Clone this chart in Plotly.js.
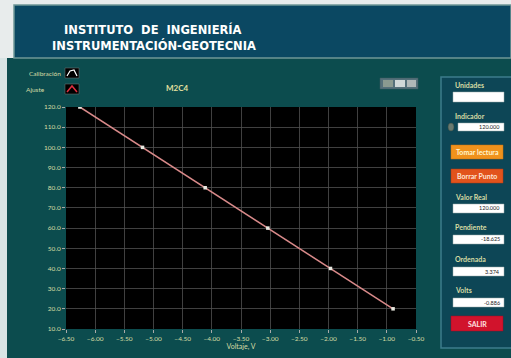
<!DOCTYPE html>
<html><head><meta charset="utf-8">
<script src="https://cdn.plot.ly/plotly-3.0.1.min.js"></script>
<style>html,body{margin:0;padding:0;background:#ffffff;}#c{width:511px;height:358px;}</style>
</head><body><div id="c"></div>
<script>
// Data
const calibVolts = [-6.262, -5.188, -4.114, -3.040, -1.966, -0.893];
const calibValues = [120, 100, 80, 60, 40, 20];
const fitVolts = [-6.262, -0.893];
const fitValues = [120, 20];
const xTicks = [-6.5, -6.0, -5.5, -5.0, -4.5, -4.0, -3.5, -3.0, -2.5, -2.0, -1.5, -1.0, -0.5];
const yTicks = [10, 20, 30, 40, 50, 60, 70, 80, 90, 100, 110, 120];
const panelLabels = ["Unidades", "Indicador", "Valor Real", "Pendiente", "Ordenada", "Volts"];
const panelValues = ["", "120.000", "120.000", "-18.625", "3.374", "-0.886"];

const W = 511, H = 358;
const px = x => x / W;
const py = y => 1 - y / H;
const lab = '#d6dca4';

function rect(x0, y0, x1, y1, fill, line, lw) {
  return {type: 'rect', xref: 'paper', yref: 'paper', x0: px(x0), x1: px(x1), y0: py(y1), y1: py(y0),
    fillcolor: fill, line: {color: line || fill, width: lw || 0}, layer: 'below'};
}
function txt(x, y, s, opts) {
  return Object.assign({xref: 'paper', yref: 'paper', x: px(x), y: py(y), text: s, showarrow: false,
    xanchor: 'left', yanchor: 'middle', font: {family: 'Lato, sans-serif', size: 7, color: lab}}, opts || {});
}

const shapes = [
  rect(0, 0, 511, 58, '#e8ecec'),
  rect(0, 58, 7, 358, '#d8e4e4'),
  rect(14, 5, 511, 58, '#0b4862', '#6f9696', 1.5),
  rect(441, 77, 520, 348, '#0d4656', '#3d7c8c', 1.5),
  // legend icons
  rect(65, 68, 79, 78, '#000000', '#777777', 0.5),
  rect(65, 84, 79, 94, '#000000', '#777777', 0.5),
  {type: 'path', xref: 'paper', yref: 'paper', layer: 'above',
    path: `M ${px(67)} ${py(76)} L ${px(70)} ${py(71)} L ${px(74)} ${py(70)} L ${px(77)} ${py(76)}`,
    line: {color: '#ffffff', width: 1.2}},
  {type: 'path', xref: 'paper', yref: 'paper', layer: 'above',
    path: `M ${px(67)} ${py(92)} L ${px(72)} ${py(86)} L ${px(77)} ${py(92)}`,
    line: {color: '#e03040', width: 1.5}},
  // toolbar palette
  rect(380, 78, 418, 89, '#55707a', '#3a5a60', 0.5),
  rect(383, 80, 393, 87, '#8a9a90'),
  rect(395, 80, 405, 87, '#d0d8d8'),
  rect(407, 80, 416, 87, '#b0b8b8'),
  // right panel boxes
  rect(453, 92, 504, 102, '#ffffff', '#9aa', 0.5),
  rect(458, 123, 504, 131, '#ffffff', '#9aa', 0.5),
  {type: 'circle', xref: 'paper', yref: 'paper', x0: px(448), x1: px(454), y0: py(131), y1: py(123), fillcolor: '#6a7a70', line: {color: '#3a4a40', width: 0.5}, layer: 'below'},
  rect(451, 145, 503, 159, '#f0921c', '#c87010', 0.5),
  rect(451, 169, 503, 183, '#e2531c', '#b03a10', 0.5),
  rect(453, 204, 504, 213, '#ffffff', '#9aa', 0.5),
  rect(453, 235, 504, 244, '#ffffff', '#9aa', 0.5),
  rect(453, 267, 504, 276, '#ffffff', '#9aa', 0.5),
  rect(453, 298, 504, 307, '#ffffff', '#9aa', 0.5),
  rect(451, 316, 503, 331, '#d1132c', '#a00a20', 0.5),
];

const hdrFont = {family: 'DejaVu Sans, sans-serif', size: 11.5, color: '#ffffff', weight: 'bold'};
const annotations = [
  txt(62, 30, '<b>INSTITUTO  DE  INGENIERÍA</b>', {font: hdrFont}),
  txt(50, 45, '<b>INSTRUMENTACIÓN-GEOTECNIA</b>', {font: hdrFont}),
  txt(63, 73, 'Calibración', {xanchor: 'right', font: {family: 'Lato, sans-serif', size: 6.5, color: lab}}),
  txt(47, 89, 'Ajuste', {xanchor: 'right', font: {family: 'Lato, sans-serif', size: 6.5, color: lab}}),
  txt(177, 88, '<b>M2C4</b>', {xanchor: 'center', font: {family: 'Lato, sans-serif', size: 8, color: '#e4e0a0'}}),
  txt(453, 85, '<b>' + panelLabels[0] + '</b>', {font: {family: 'Lato, sans-serif', size: 7, color: lab}}),
  txt(453, 116, '<b>' + panelLabels[1] + '</b>', {font: {family: 'Lato, sans-serif', size: 7, color: lab}}),
  txt(502, 127, panelValues[1], {xanchor: 'right', font: {family: 'Lato, sans-serif', size: 5.5, color: '#222'}}),
  txt(477, 152, '<b>Tomar lectura</b>', {xanchor: 'center', font: {family: 'Lato, sans-serif', size: 7, color: '#fff6d0'}}),
  txt(477, 176, '<b>Borrar Punto</b>', {xanchor: 'center', font: {family: 'Lato, sans-serif', size: 7, color: '#ffe8d8'}}),
  txt(453, 197, '<b>' + panelLabels[2] + '</b>', {font: {family: 'Lato, sans-serif', size: 7, color: lab}}),
  txt(502, 208.5, panelValues[2], {xanchor: 'right', font: {family: 'Lato, sans-serif', size: 5.5, color: '#222'}}),
  txt(453, 227, '<b>' + panelLabels[3] + '</b>', {font: {family: 'Lato, sans-serif', size: 7, color: lab}}),
  txt(502, 239.5, panelValues[3], {xanchor: 'right', font: {family: 'Lato, sans-serif', size: 5.5, color: '#222'}}),
  txt(453, 259, '<b>' + panelLabels[4] + '</b>', {font: {family: 'Lato, sans-serif', size: 7, color: lab}}),
  txt(502, 271.5, panelValues[4], {xanchor: 'right', font: {family: 'Lato, sans-serif', size: 5.5, color: '#222'}}),
  txt(453, 290, '<b>' + panelLabels[5] + '</b>', {font: {family: 'Lato, sans-serif', size: 7, color: lab}}),
  txt(502, 302.5, panelValues[5], {xanchor: 'right', font: {family: 'Lato, sans-serif', size: 5.5, color: '#222'}}),
  txt(477, 323.5, '<b>SALIR</b>', {xanchor: 'center', font: {family: 'Lato, sans-serif', size: 7, color: '#ffe0e0'}}),
];

const traces = [
  {x: fitVolts, y: fitValues, mode: 'lines', line: {color: '#d98a8a', width: 1.5}, hoverinfo: 'skip', showlegend: false},
  {x: calibVolts, y: calibValues, mode: 'markers', marker: {symbol: 'square', size: 3.5, color: '#e8e8e0'}, showlegend: false},
];

const tickFont = {family: 'Lato, sans-serif', size: 6.5, color: lab};
const layout = {
  width: W, height: H, margin: {l: 0, r: 0, t: 0, b: 0},
  paper_bgcolor: '#0c4c4e', plot_bgcolor: '#000000',
  showlegend: false,
  xaxis: {domain: [px(66), px(416)], range: [-6.5, -0.5], tickvals: xTicks, tickformat: '.2f',
    showgrid: true, gridcolor: '#505050', gridwidth: 0.8, zeroline: false,
    ticks: 'outside', ticklen: 3, tickcolor: '#aaa', tickfont: tickFont, showline: false,
    title: {text: 'Voltaje, V', font: {family: 'Lato, sans-serif', size: 7, color: lab}, standoff: 2}},
  yaxis: {domain: [py(329), py(107)], range: [10, 120], tickvals: yTicks, tickformat: '.1f',
    showgrid: true, gridcolor: '#505050', gridwidth: 0.8, zeroline: false,
    ticks: 'outside', ticklen: 3, tickcolor: '#aaa', tickfont: tickFont, showline: false},
  shapes: shapes, annotations: annotations,
};
Plotly.newPlot('c', traces, layout, {displayModeBar: false, staticPlot: true});
</script></body></html>
